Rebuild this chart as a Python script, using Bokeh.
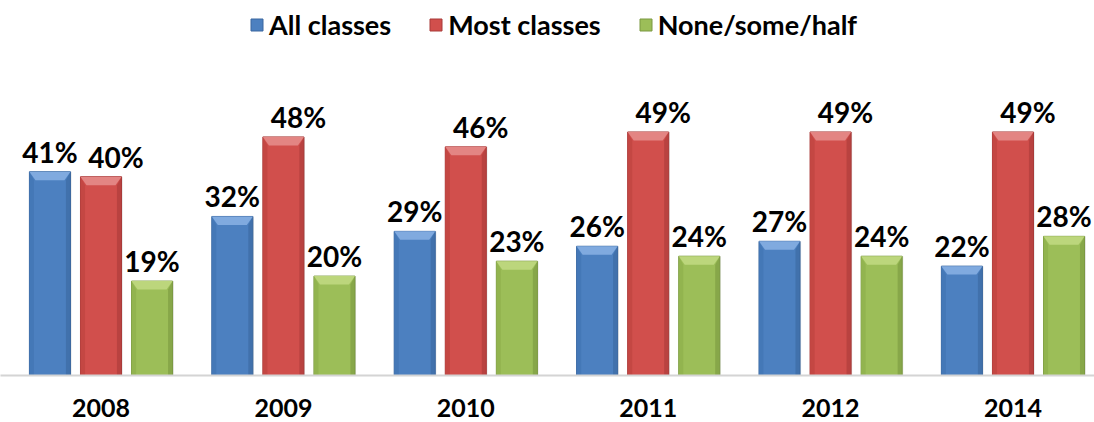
from bokeh.plotting import figure
from bokeh.models import Range1d, FixedTicker, ColumnDataSource, Legend, LegendItem
from bokeh.core.properties import value
from bokeh.embed import file_html
from bokeh.resources import INLINE

# ---- data ----
years = ["2008", "2009", "2010", "2011", "2012", "2014"]
all_classes = [41, 32, 29, 26, 27, 22]
most_classes = [40, 48, 46, 49, 49, 49]
none_some_half = [19, 20, 23, 24, 24, 28]
series_names = ["All classes", "Most classes", "None/some/half"]

FONT = "Lato"
centers = [i + 0.5 for i in range(len(years))]

p = figure(width=1094, height=422, output_backend="svg", toolbar_location=None,
           x_range=Range1d(-0.051, 5.947), y_range=Range1d(0, 75.45),
           min_border_left=0, min_border_right=0, min_border_top=0, min_border_bottom=47)
p.outline_line_color = None
p.xgrid.visible = False
p.ygrid.visible = False
p.yaxis.visible = False
p.background_fill_color = "white"

bar_w = 0.225
step = 0.28
styles = [
    # body, edge, top bevel, side shade
    ("#4c80c0", "#3a679f", "#80aadf", "#4477b6"),
    ("#d14f4c", "#a83b39", "#e38583", "#c24643"),
    ("#9cbe58", "#7a9840", "#bcd67c", "#91b24f"),
]
label_dx = [0, 15, 0]   # screen-px nudge of value labels per series
series = [all_classes, most_classes, none_some_half]

bev_h = 1.7      # data units (y)
bev_d = 0.033    # data units (x)
side_d = 0.025

# axis shadow line
renderers = []
for k, (vals, (body, edge, top, side)) in enumerate(zip(series, styles)):
    off = (k - 1) * step
    xs = [c + off for c in centers]
    src = ColumnDataSource(dict(x=xs, top=vals))
    p.vbar(x=[x + 0.006 for x in xs], top=vals, width=bar_w, bottom=0,
           fill_color="#000000", fill_alpha=0.12, line_color=None)
    r = p.vbar(x="x", top="top", width=bar_w, bottom=0, source=src,
               fill_color=body, line_color=edge, line_width=1)
    renderers.append(r)
    lx, ly, rx, ry, tx, ty = [], [], [], [], [], []
    for x, v in zip(xs, vals):
        l, rr = x - bar_w / 2, x + bar_w / 2
        lx.append([l, l + side_d, l + side_d, l])
        ly.append([v, v - bev_h, 0, 0])
        rx.append([rr, rr - side_d, rr - side_d, rr])
        ry.append([v, v - bev_h, 0, 0])
        tx.append([l, rr, rr - bev_d, l + bev_d])
        ty.append([v, v, v - bev_h, v - bev_h])
    p.patches(lx, ly, fill_color=side, line_color=None, fill_alpha=0.9)
    p.patches(rx, ry, fill_color=edge, line_color=None, fill_alpha=0.6)
    p.patches(tx, ty, fill_color=top, line_color=None)
    p.text(x=xs, y=vals, text=[f"{v}%" for v in vals], text_align="center",
           text_baseline="alphabetic", y_offset=-20, x_offset=label_dx[k],
           text_font=value(FONT), text_font_size="28px", text_font_style="bold",
           text_color="#000000")

# x axis
p.xaxis.ticker = FixedTicker(ticks=centers)
p.xaxis.major_label_overrides = {c: y for c, y in zip(centers, years)}
p.xaxis.major_tick_line_color = None
p.xaxis.minor_tick_line_color = None
p.xaxis.axis_line_color = "#d4d4d4"
p.xaxis.axis_line_width = 2
p.xaxis.major_label_text_font = FONT
p.xaxis.major_label_text_font_size = "25px"
p.xaxis.major_label_text_font_style = "bold"
p.xaxis.major_label_text_color = "#000000"
p.xaxis.major_label_standoff = 17

legend = Legend(items=[LegendItem(label=n, renderers=[r]) for n, r in zip(series_names, renderers)],
                location=(249, 334), orientation="horizontal",
                label_text_font=FONT, label_text_font_size="27px", label_text_font_style="bold",
                label_text_color="#000000",
                glyph_width=15, glyph_height=15, label_standoff=5, spacing=37,
                padding=0, margin=0, border_line_color=None, background_fill_alpha=0)
p.add_layout(legend, "center")

open("out.html", "w").write(file_html(p, INLINE))
